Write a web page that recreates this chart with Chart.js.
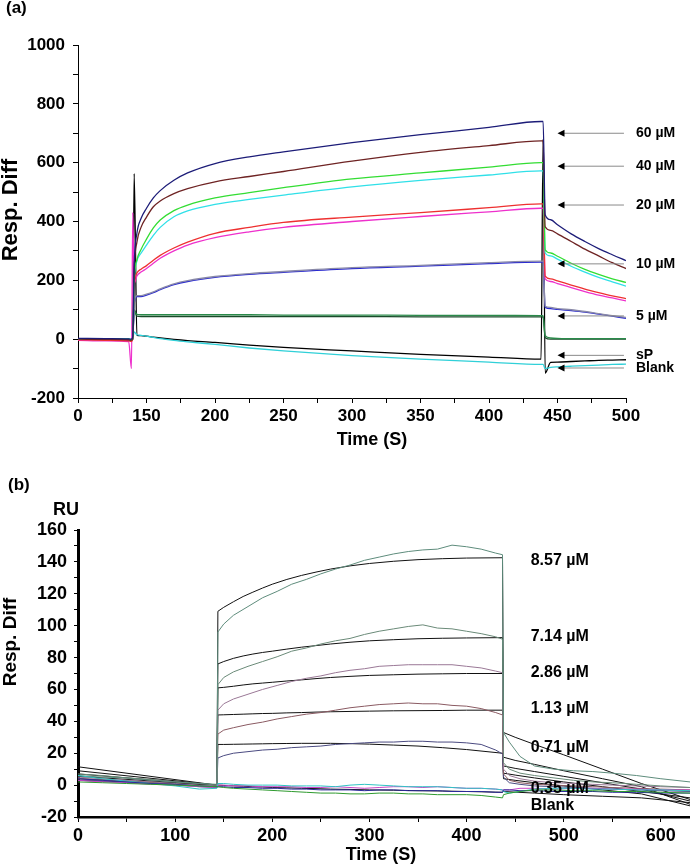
<!DOCTYPE html>
<html>
<head>
<meta charset="utf-8">
<script src="https://cdn.jsdelivr.net/npm/chart.js@4.4.1/dist/chart.umd.min.js"></script>
<style>
  html, body { margin: 0; padding: 0; background: #ffffff; }
  #wrap { position: relative; width: 690px; height: 865px; }
  #panelA { position: absolute; left: 0; top: 0; }
  #panelB { position: absolute; left: 0; top: 455px; }
</style>
</head>
<body>
<div id="wrap">
  <canvas id="panelA" width="690" height="455"></canvas>
  <canvas id="panelB" width="690" height="410"></canvas>
</div>
<script>
// ---------- panel (a) data ----------
const timeA = [100, 120, 137, 139, 140, 141, 143, 146, 150, 155, 160, 170, 180, 200, 225, 250, 300, 350, 400, 438, 439.5, 441, 445, 450, 460, 470, 480, 490, 500];

const a60 = [3, 2, 1, 0, 10, 250, 360, 410, 445, 480, 505, 540, 565, 597, 620, 637, 668, 695, 720, 740, 740, 423, 406, 389, 358, 332, 308, 287, 267];
const a40 = [0, -1, -2, -4, 5, 230, 330, 380, 415, 450, 470, 495, 512, 535, 553, 570, 605, 635, 658, 674, 674, 382, 370, 358, 332, 306, 283, 260, 240];
const a30 = [2, 1, 0, -3, 5, 200, 270, 305, 340, 378, 405, 437, 456, 480, 498, 515, 545, 565, 585, 600, 600, 304, 293, 282, 258, 237, 220, 205, 193];
const a25 = [1, 0, 1, -2, 5, 195, 265, 292, 320, 353, 380, 416, 436, 458, 475, 490, 518, 540, 558, 572, 572, 293, 283, 272, 248, 228, 210, 195, 180];
const a20 = [-2, -4, -6, -8, 5, 180, 225, 238, 250, 268, 285, 310, 330, 360, 380, 397, 415, 430, 447, 460, 460, 214, 205, 198, 184, 170, 158, 147, 138];
const a20b = [-4, -6, -8, -100, 430, 190, 215, 228, 240, 258, 275, 300, 320, 345, 365, 380, 400, 417, 433, 445, 445, 205, 196, 189, 175, 162, 150, 140, 130];
const a10 = [1, 0, -2, -4, 5, 120, 145, 145, 150, 158, 168, 185, 196, 210, 220, 227, 240, 248, 257, 262, 262, 108, 104, 101, 97, 92, 85, 78, 71];
const a10b = [0, -1, -2, -3, 5, 125, 148, 148, 153, 161, 171, 188, 199, 213, 223, 230, 243, 251, 260, 265, 265, 112, 108, 104, 100, 94, 87, 80, 74];
const a5 = [0, -2, -4, -6, 5, 95, 84, 83, 83, 83, 83, 83, 83, 83, 83, 82, 82, 81, 81, 80, 80, 12, 4, 3, 2, 2, 2, 2, 2];
const a5b = [0, -2, -3, -5, 5, 100, 78, 77, 77, 77, 77, 77, 77, 77, 77, 77, 77, 76, 76, 76, 76, 5, 0, 0, 0, 0, 0, 0, 0];
const aSP = [0, -1, -3, -5, 0, 563, 13, 12, 10, 7, 4, -1, -5, -11, -20, -28, -40, -52, -61, -68, 680, -115, -79, -78, -76, -74, -72, -71, -70];
const aBlank = [2, 2, 1, -3, 0, 25, 15, 13, 10, 6, 2, -4, -9, -18, -30, -40, -56, -68, -78, -86, -86, -100, -96, -94, -92, -90, -88, -86, -85];

const labelsA = ['60 \u00b5M', '40 \u00b5M', '20 \u00b5M', '10 \u00b5M', '5 \u00b5M', 'sP', 'Blank'];
const labelValuesA = [700, 588, 456, 256, 79, -55, -98];

// ---------- panel (b) data ----------
const timeFitB = [0, 143, 144, 150, 160, 170, 180, 190, 200, 215, 230, 245, 260, 280, 300, 325, 350, 375, 400, 437, 438, 450, 470, 500, 540, 580, 630];
const fit857 = [11.5, 0, 109, 111.5, 115, 118.3, 121, 123.6, 126, 129, 131.5, 133.6, 135.5, 137.5, 139, 140.4, 141.4, 142, 142.4, 142.6, 33, 30, 25.5, 19, 10, 1, -9];
const fit714 = [9, 0, 76, 77.5, 79.5, 81, 82.2, 83.2, 84, 85.3, 86.5, 87.5, 88.5, 89.6, 90.5, 91.2, 91.8, 92.1, 92.3, 92.5, 17.5, 15.5, 13, 9, 4, -1, -12];
const fit286 = [7, 0, 61, 61.3, 62, 62.8, 63.5, 64, 64.5, 65.3, 66, 66.8, 67.5, 68.2, 68.8, 69.2, 69.6, 69.8, 70, 70, 12, 10.5, 8.5, 5.5, 1.5, -2.5, -10];
const fit113 = [5.5, 0, 44, 44.1, 44.3, 44.5, 44.7, 44.9, 45, 45.3, 45.5, 45.8, 46, 46.2, 46.4, 46.6, 46.7, 46.8, 47, 47, 7.5, 6.3, 4.5, 2, -1, -4, -8];
const fit071 = [4, 0, 25.5, 25.5, 25.6, 25.7, 25.8, 25.9, 26, 26.1, 26.2, 26.2, 26.2, 26, 25.7, 25.1, 24.5, 23.5, 22.3, 20, 4, 3, 1.5, -0.5, -3, -5.5, -13];
const fit035 = [3, 0, 0, -0.2, -0.5, -0.7, -1, -1.2, -1.5, -1.7, -2, -2.2, -2.5, -2.7, -3, -3.2, -3.5, -3.7, -4, -4.5, -4, -4.4, -5, -6, -7, -8, -11];

const timeB = [0, 25, 50, 75, 100, 125, 143, 144, 150, 160, 175, 190, 205, 220, 235, 250, 265, 280, 295, 310, 325, 340, 355, 370, 385, 400, 415, 430, 437, 438, 444, 455, 470, 490, 510, 530, 550, 575, 600, 630];
const m857 = [6, 5, 4.5, 3, 2, 1, 0.5, 96, 101, 106.5, 112, 117.5, 121.5, 126, 129, 132.5, 135.5, 138, 141, 143, 145, 146.5, 147.5, 148, 150.5, 149.5, 148, 145.5, 144.5, 33, 27, 18, 12, 10, 9, 8.5, 7.5, 6, 4, 2];
const m714 = [7, 6, 4.5, 3.5, 2, 1, 0, 63, 67.5, 71, 74.5, 77.5, 80.5, 84, 86, 88.5, 90.5, 92, 94.5, 96.5, 98, 99.5, 100.5, 98.5, 98, 96.5, 95, 93, 91.5, 14, 10, 7.5, 6, 4.5, 3, 2, 1.5, 0.5, -0.5, -1.5];
const m286 = [5, 4, 3, 2, 1, 0, -0.5, 47, 51, 54, 57, 60, 62.5, 65, 67, 68.5, 70.5, 72, 73, 74.5, 75, 75.5, 75.5, 75.5, 75.5, 74.5, 73.5, 71.5, 70.5, 10, 6, 4, 2.5, 1.5, 1, 0.5, 0, -0.5, -1, -1.5];
const m113 = [4, 3.5, 2.5, 1.5, 0.5, -0.5, -1, 32, 34.5, 36, 38, 39.5, 41.5, 43, 44.5, 45.5, 47, 48.5, 49.5, 50.5, 51, 51.5, 51, 51, 50, 49.5, 48, 45.5, 44, 7, 3, 1.5, 0.5, 0, -0.5, -1, -1.5, -2, -2.5, -3];
const m071 = [3, 2.5, 1.5, 1, 0, -1, -1.5, 17, 18.5, 20, 21, 22, 22.5, 23.5, 24, 24.5, 25.5, 26, 26.5, 27, 27, 27.5, 27.5, 27, 27, 26.5, 25.5, 22, 19.5, 5, 1.5, 0.5, -0.5, -1, -1.5, -2, -2.5, -3, -3.5, -4];
const m035 = [3, 2, 1.5, 0.5, 0, -1, -1.5, 0, 0, -0.5, -0.5, -1, -1, -1, -1.5, -1.5, -1, -1.5, -2, -1.5, -1, -1, -1.5, -1, -1.5, -2, -2, -2.5, -3, -3, -3, -2, -2, -2.5, -2, -2, -2.5, -2.5, -3, -3];
const mBlank = [6, 4, 2.5, 1, -0.5, -2.5, -2, 1, 1, 0.5, 0, 0, 0, -0.5, -0.5, -0.5, -1, 0, 0.5, 0, -0.5, -1, -1, -1, -1.5, -2, -2, -2.5, -3, -4, -5, -4, -2.5, -2, -2, -2.5, -2.5, -3, -3, -3.5];
const mGreen = [2, 1.5, 1, 0.5, 0, -0.5, -1, -1, -1.5, -2, -2.5, -3, -3.5, -4, -4.5, -5, -5, -5.5, -5.5, -5, -5, -5.5, -5.5, -6, -6, -6, -6.5, -7.5, -8, -6, -5, -4, -3, -3, -3.5, -3.5, -4, -4, -4.5, -5];
const mBlue = [4, 3, 2, 1, 0.5, -0.5, -1, -1, -1, -1.5, -1.5, -2, -2, -2.5, -2.5, -3, -3, -3, -3.5, -3, -3, -3.5, -3.5, -3.5, -4, -4, -4, -4.5, -4.5, -3, -3, -3.5, -3.5, -4, -4, -4, -4.5, -4.5, -5, -5];

const labelsB = ['8.57 \u00b5M', '7.14 \u00b5M', '2.86 \u00b5M', '1.13 \u00b5M', '0.71 \u00b5M', '0.35 \u00b5M', 'Blank'];
const labelValuesB = [141, 93, 70.5, 48, 23.5, -2, -13];

// ---------- helpers ----------
const FONT = "'Liberation Sans', Arial, Helvetica, sans-serif";
Chart.defaults.font.family = FONT;
Chart.defaults.color = '#000';

const points = (xs, ys) => xs.map((x, i) => ({ x, y: ys[i] }));

function series(xs, ys, color, width, smooth) {
    return {
        data: points(xs, ys),
        borderColor: color,
        borderWidth: width,
        pointRadius: 0,
        fill: false,
        tension: 0,
        cubicInterpolationMode: smooth ? 'monotone' : 'default'
    };
}

const panelText = {
    id: 'panelText',
    afterDraw(chart, args, opts) {
        const ctx = chart.ctx;
        const xs = chart.scales.x;
        const ys = chart.scales.y;
        ctx.save();
        ctx.fillStyle = '#000';
        ctx.textBaseline = 'middle';

        (opts.texts || []).forEach(t => {
            ctx.font = `bold ${t.size}px ${FONT}`;
            ctx.textAlign = t.align || 'center';
            ctx.save();
            ctx.translate(t.x, t.y);
            if (t.rotate) ctx.rotate(t.rotate);
            ctx.fillText(t.text, 0, 0);
            ctx.restore();
        });

        const lab = opts.labels;
        if (lab) {
            ctx.font = `bold ${lab.size}px ${FONT}`;
            ctx.textAlign = 'left';
            lab.names.forEach((name, i) => {
                const py = ys.getPixelForValue(lab.values[i]);
                if (lab.arrowFrom !== undefined) {
                    const x0 = xs.getPixelForValue(lab.arrowTo);
                    const x1 = xs.getPixelForValue(lab.arrowFrom);
                    ctx.strokeStyle = '#8a8a8a';
                    ctx.lineWidth = 1;
                    ctx.beginPath();
                    ctx.moveTo(x1, py);
                    ctx.lineTo(x0 + 5, py);
                    ctx.stroke();
                    ctx.fillStyle = '#000';
                    ctx.beginPath();
                    ctx.moveTo(x0, py);
                    ctx.lineTo(x0 + 7, py - 3.5);
                    ctx.lineTo(x0 + 7, py + 3.5);
                    ctx.closePath();
                    ctx.fill();
                }
                ctx.fillStyle = '#000';
                ctx.fillText(name, xs.getPixelForValue(lab.textAt) + (lab.textOffset || 0), py);
            });
        }
        ctx.restore();
    }
};

function axisStyle(width, tickLen) {
    return {
        border: { display: true, color: '#000', width: width },
        grid: {
            display: true,
            drawOnChartArea: false,
            drawTicks: true,
            tickLength: tickLen,
            color: '#000',
            tickColor: '#000'
        }
    };
}

// ---------- panel (a) ----------
new Chart(document.getElementById('panelA'), {
    type: 'line',
    data: {
        datasets: [
            series(timeA, a60, '#1c1c78', 1.3, true),
            series(timeA, a40, '#6e2323', 1.3, true),
            series(timeA, a30, '#33dd33', 1.3, true),
            series(timeA, a25, '#30e0e8', 1.3, true),
            series(timeA, a20, '#ee3030', 1.3, true),
            series(timeA, a20b, '#ee30cc', 1.3, true),
            series(timeA, a10b, '#8a8aa8', 1.3, true),
            series(timeA, a10, '#2a2ad0', 1.3, true),
            series(timeA, a5, '#2a8a4a', 1.3, true),
            series(timeA, a5b, '#1a4a2a', 1.3, true),
            series(timeA, aBlank, '#30d0d8', 1.3, true),
            series(timeA, aSP, '#000000', 1.3, true)
        ]
    },
    options: {
        responsive: false,
        animation: false,
        devicePixelRatio: 1,
        layout: { padding: { left: 0, top: 45, right: 64, bottom: 27 } },
        plugins: {
            legend: { display: false },
            tooltip: { enabled: false },
            panelText: {
                texts: [
                    { text: '(a)', x: 6, y: 8, size: 17, align: 'left' },
                    { text: 'Resp. Diff', x: 11, y: 210, size: 22, rotate: -Math.PI / 2 },
                    { text: 'Time (S)', x: 372, y: 440, size: 18 }
                ],
                labels: {
                    names: labelsA,
                    values: labelValuesA,
                    size: 14,
                    textAt: 500,
                    textOffset: 10,
                    arrowFrom: 498.5,
                    arrowTo: 450
                }
            }
        },
        scales: {
            x: {
                type: 'linear',
                min: 100,
                max: 500,
                ...axisStyle(1, 5),
                afterFit(scale) { scale.height = 30; },
                ticks: {
                    stepSize: 25,
                    autoSkip: false,
                    maxRotation: 0,
                    padding: 3,
                    font: { size: 17, weight: 'bold' },
                    callback: v => v % 50 === 0 ? (v === 100 ? '0' : String(v)) : ''
                }
            },
            y: {
                type: 'linear',
                min: -200,
                max: 1000,
                ...axisStyle(1, 5),
                afterFit(scale) { scale.width = 78; },
                ticks: {
                    stepSize: 100,
                    autoSkip: false,
                    padding: 8,
                    font: { size: 17, weight: 'bold' },
                    callback: v => v % 200 === 0 ? String(v) : ''
                }
            }
        }
    },
    plugins: [panelText]
});

// ---------- panel (b) ----------
new Chart(document.getElementById('panelB'), {
    type: 'line',
    data: {
        datasets: [
            series(timeB, mGreen, '#2e9a2e', 1, false),
            series(timeB, mBlue, '#2a2a9a', 1, false),
            series(timeB, mBlank, '#30c4c4', 1, false),
            series(timeB, m035, '#c844c8', 1, false),
            series(timeB, m857, '#5e8c7c', 1, false),
            series(timeB, m714, '#6a8a78', 1, false),
            series(timeB, m286, '#9a7896', 1, false),
            series(timeB, m113, '#8a5a62', 1, false),
            series(timeB, m071, '#4a4a80', 1, false),
            series(timeFitB, fit035, '#111111', 1, false),
            series(timeFitB, fit071, '#111111', 1, false),
            series(timeFitB, fit113, '#111111', 1, false),
            series(timeFitB, fit286, '#111111', 1, false),
            series(timeFitB, fit714, '#111111', 1, false),
            series(timeFitB, fit857, '#111111', 1, false)
        ]
    },
    options: {
        responsive: false,
        animation: false,
        devicePixelRatio: 1,
        layout: { padding: { left: 0, top: 75, right: 0, bottom: 18 } },
        plugins: {
            legend: { display: false },
            tooltip: { enabled: false },
            panelText: {
                texts: [
                    { text: '(b)', x: 8, y: 30, size: 17, align: 'left' },
                    { text: 'RU', x: 66, y: 55, size: 18 },
                    { text: 'Resp. Diff', x: 11, y: 187, size: 19, rotate: -Math.PI / 2 },
                    { text: 'Time (S)', x: 381, y: 400, size: 18 }
                ],
                labels: {
                    names: labelsB,
                    values: labelValuesB,
                    size: 16,
                    textAt: 466
                }
            }
        },
        scales: {
            x: {
                type: 'linear',
                min: 0,
                max: 630,
                ...axisStyle(2.5, 5),
                afterFit(scale) { scale.height = 30; },
                ticks: {
                    stepSize: 50,
                    includeBounds: false,
                    autoSkip: false,
                    maxRotation: 0,
                    padding: 3,
                    font: { size: 18, weight: 'bold' },
                    callback: v => v % 100 === 0 ? String(v) : ''
                }
            },
            y: {
                type: 'linear',
                min: -20,
                max: 160,
                ...axisStyle(3, 4),
                afterFit(scale) { scale.width = 78; },
                ticks: {
                    stepSize: 10,
                    autoSkip: false,
                    padding: 7,
                    font: { size: 18, weight: 'bold' },
                    callback: v => v % 20 === 0 ? String(v) : ''
                }
            }
        }
    },
    plugins: [panelText]
});
</script>
</body>
</html>
